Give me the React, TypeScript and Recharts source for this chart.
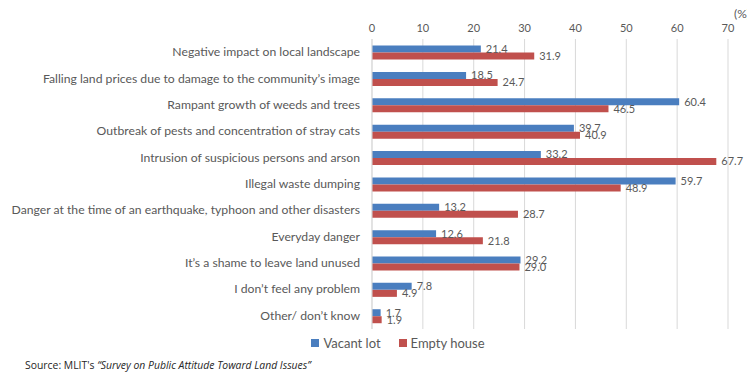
import { BarChart, Bar, XAxis, YAxis, CartesianGrid, LabelList, Legend } from 'recharts';

const categories = [
  'Negative impact on local landscape',
  'Falling land prices due to damage to the community\u2019s image',
  'Rampant growth of weeds and trees',
  'Outbreak of pests and concentration of stray cats',
  'Intrusion of suspicious persons and arson',
  'Illegal waste dumping',
  'Danger at the time of an earthquake, typhoon and other disasters',
  'Everyday danger',
  'It\u2019s a shame to leave land unused',
  'I don\u2019t feel any problem',
  'Other/ don\u2019t know',
];

const vacantLot = [21.4, 18.5, 60.4, 39.7, 33.2, 59.7, 13.2, 12.6, 29.2, 7.8, 1.7];
const emptyHouse = [31.9, 24.7, 46.5, 40.9, 67.7, 48.9, 28.7, 21.8, 29.0, 4.9, 1.9];

const xTicks = [0, 10, 20, 30, 40, 50, 60, 70];

const data = categories.map((name, i) => ({
  name,
  vacant: vacantLot[i],
  empty: emptyHouse[i],
}));

const FONT = 'Lato, "Liberation Sans", sans-serif';
const GRAY = '#595959';
const BLUE = '#4A7EBF';
const RED = '#C0504D';

const fmt = (v: any) => Number(v).toFixed(1);

// category labels on one line, right-aligned against the axis
function CategoryTick(props: any) {
  const { x, y, payload } = props;
  return (
    <text x={x} y={y} dy={4} textAnchor="end" fill={GRAY} fontSize={12.2} fontFamily={FONT}>
      {payload.value}
    </text>
  );
}

function LegendContent() {
  const items = [
    { label: 'Vacant lot', color: BLUE },
    { label: 'Empty house', color: RED },
  ];
  return (
    <div style={{ display: 'flex', justifyContent: 'center', gap: 18, fontFamily: FONT, fontSize: 13, color: GRAY, paddingLeft: 68, paddingTop: 6 }}>
      {items.map((it) => (
        <div key={it.label} style={{ display: 'flex', alignItems: 'center', gap: 4 }}>
          <span style={{ width: 8, height: 8, background: it.color, display: 'inline-block' }} />
          <span>{it.label}</span>
        </div>
      ))}
    </div>
  );
}

export default function App() {
  return (
    <div style={{ position: 'absolute', left: 0, top: 0, width: 747, height: 376, background: '#fff', overflow: 'hidden' }}>
      <BarChart
        width={747}
        height={376}
        data={data}
        layout="vertical"
        margin={{ top: 0, right: 19, bottom: 22, left: 0 }}
        barCategoryGap="25%"
        barGap={0}
      >
        <CartesianGrid horizontal={false} stroke="#d9d9d9" />
        <XAxis
          type="number"
          orientation="top"
          domain={[0, 70]}
          ticks={xTicks}
          height={39}
          axisLine={false}
          tickLine={false}
          tickSize={0}
          tickMargin={7}
          tick={{ fill: GRAY, fontSize: 11, fontFamily: FONT }}
        />
        <YAxis
          type="category"
          dataKey="name"
          width={372}
          interval={0}
          axisLine={{ stroke: '#d9d9d9' }}
          tickLine={false}
          tickSize={0}
          tickMargin={12}
          tick={<CategoryTick />}
        />
        <Legend verticalAlign="bottom" height={25} content={<LegendContent />} />
        <Bar dataKey="vacant" name="Vacant lot" fill={BLUE} isAnimationActive={false}>
          <LabelList dataKey="vacant" position="right" offset={5} formatter={fmt} fill={GRAY} fontSize={11} fontFamily={FONT} />
        </Bar>
        <Bar dataKey="empty" name="Empty house" fill={RED} isAnimationActive={false}>
          <LabelList dataKey="empty" position="right" offset={5} formatter={fmt} fill={GRAY} fontSize={11} fontFamily={FONT} />
        </Bar>
      </BarChart>
      <div style={{ position: 'absolute', left: 734, top: 6, fontFamily: FONT, fontSize: 12, color: GRAY, whiteSpace: 'nowrap' }}>(%)</div>
      <div style={{ position: 'absolute', left: 25, top: 358, fontFamily: '"Open Sans", sans-serif', fontSize: 10.4, color: '#262626', whiteSpace: 'nowrap' }}>
        Source: MLIT's <i>{'\u201cSurvey on Public Attitude Toward Land Issues\u201d'}</i>
      </div>
    </div>
  );
}
